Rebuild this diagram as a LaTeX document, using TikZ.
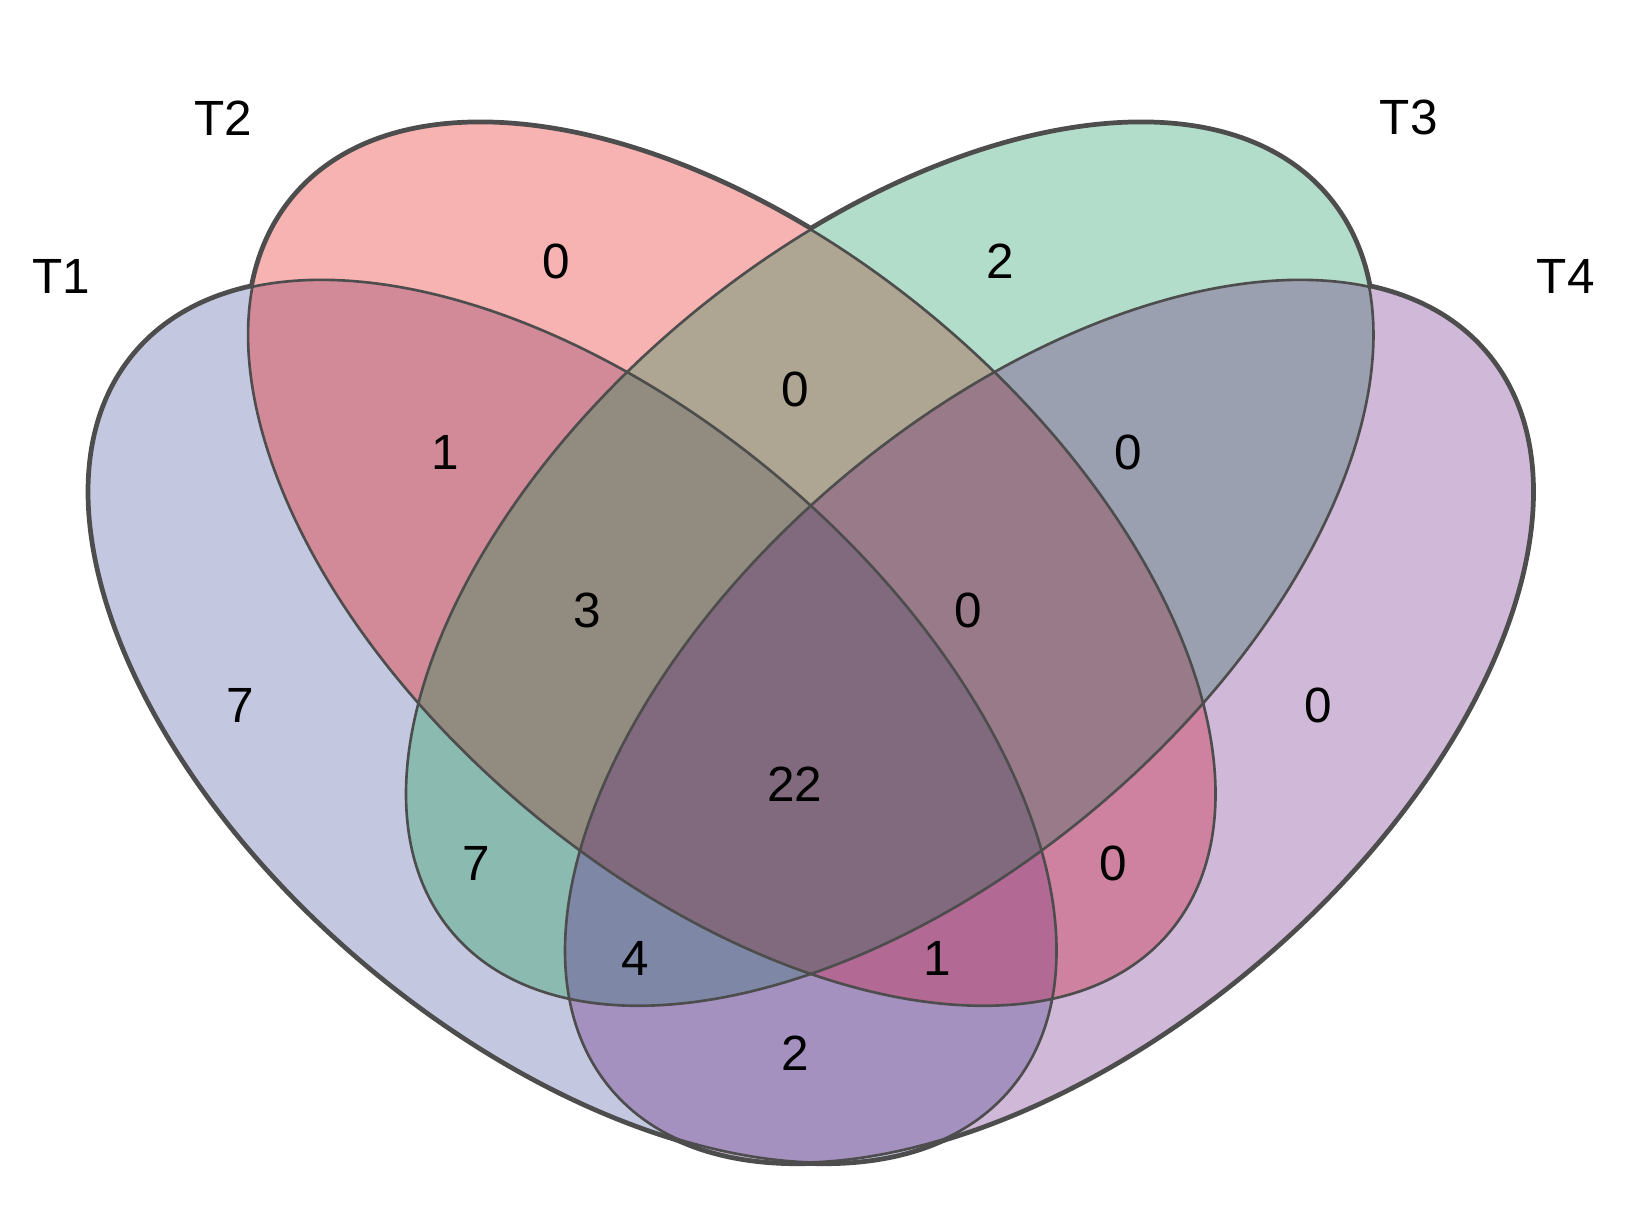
\documentclass[tikz,border=0pt]{standalone}
\usepackage{fontspec}
\setmainfont{Liberation Sans}
\definecolor{cA}{HTML}{C3C8E0}
\definecolor{cB}{HTML}{F7B2B2}
\definecolor{cC}{HTML}{B2DDCB}
\definecolor{cD}{HTML}{D0B8D8}
\definecolor{cAB}{HTML}{D28A98}
\definecolor{cBC}{HTML}{AEA692}
\definecolor{cCD}{HTML}{9BA0B0}
\definecolor{cAC}{HTML}{8ABAB0}
\definecolor{cBD}{HTML}{CE82A0}
\definecolor{cAD}{HTML}{A591C0}
\definecolor{cABC}{HTML}{928B7F}
\definecolor{cBCD}{HTML}{997A88}
\definecolor{cACD}{HTML}{7E87A5}
\definecolor{cABD}{HTML}{B26994}
\definecolor{cABCD}{HTML}{826A7E}
\definecolor{edge}{HTML}{4D4D4D}
\begin{document}
\begin{tikzpicture}[x=1pt,y=1pt,
  lab/.style={font=\fontsize{47}{52}\selectfont, inner sep=0pt, text=black},
  eA/.style={rotate around={-40:(544,467)}},
  eB/.style={rotate around={-40:(695,616)}},
  eC/.style={rotate around={40:(845,616)}},
  eD/.style={rotate around={40:(996,467)}},
  outerline/.style={draw=edge, line width=6.5},
  innerline/.style={draw=edge, line width=2.5}]
\useasboundingbox (0,0) rectangle (1568,1152);
\def\pA{[eA] (544,467) ellipse [x radius=543, y radius=303]}
\def\pB{[eB] (695,616) ellipse [x radius=543, y radius=303]}
\def\pC{[eC] (845,616) ellipse [x radius=543, y radius=303]}
\def\pD{[eD] (996,467) ellipse [x radius=543, y radius=303]}
% thick outlines underneath
\path[outerline]\pA; \path[outerline]\pB; \path[outerline]\pC; \path[outerline]\pD;
% single sets
\fill[cA]\pA; \fill[cB]\pB; \fill[cC]\pC; \fill[cD]\pD;
% pairs
\begin{scope}\clip\pA; \fill[cAB]\pB; \end{scope}
\begin{scope}\clip\pA; \fill[cAC]\pC; \end{scope}
\begin{scope}\clip\pA; \fill[cAD]\pD; \end{scope}
\begin{scope}\clip\pB; \fill[cBC]\pC; \end{scope}
\begin{scope}\clip\pB; \fill[cBD]\pD; \end{scope}
\begin{scope}\clip\pC; \fill[cCD]\pD; \end{scope}
% triples
\begin{scope}\clip\pA; \clip\pB; \fill[cABC]\pC; \end{scope}
\begin{scope}\clip\pA; \clip\pB; \fill[cABD]\pD; \end{scope}
\begin{scope}\clip\pA; \clip\pC; \fill[cACD]\pD; \end{scope}
\begin{scope}\clip\pB; \clip\pC; \fill[cBCD]\pD; \end{scope}
% all four
\begin{scope}\clip\pA; \clip\pB; \clip\pC; \fill[cABCD]\pD; \end{scope}
% thin outlines on top
\path[innerline]\pA; \path[innerline]\pB; \path[innerline]\pC; \path[innerline]\pD;
% set labels
\node[lab] (t1) at (58,889) {T1};
\node[lab] (t2) at (212,1040) {T2};
\node[lab] (t3) at (1338,1040) {T3};
\node[lab] (t4) at (1487,889) {T4};
% counts
\node[lab] (nB) at (528,904) {0};
\node[lab] (nC) at (950,904) {2};
\node[lab] (nA) at (228,482) {7};
\node[lab] (nD) at (1252,482) {0};
\node[lab] (nAB) at (423,722) {1};
\node[lab] (nBC) at (755,782) {0};
\node[lab] (nCD) at (1072,722) {0};
\node[lab] (nABC) at (558,572) {3};
\node[lab] (nBCD) at (920,572) {0};
\node[lab] (nABCD) at (755,407) {22};
\node[lab] (nAC) at (452,332) {7};
\node[lab] (nBD) at (1057,332) {0};
\node[lab] (nACD) at (603,242) {4};
\node[lab] (nABD) at (890,242) {1};
\node[lab] (nAD) at (755,152) {2};
\end{tikzpicture}
\end{document}
